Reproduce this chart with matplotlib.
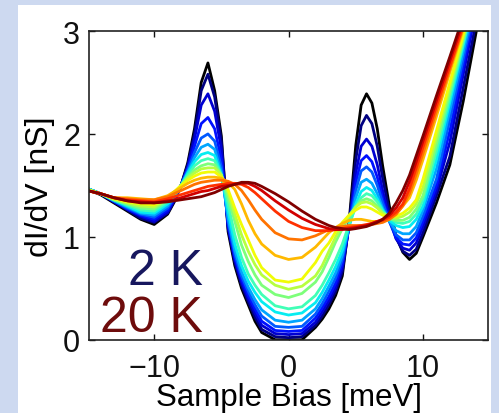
import numpy as np
import matplotlib.pyplot as plt
from matplotlib.patches import Rectangle

plt.rcParams['font.family'] = ['Liberation Sans', 'DejaVu Sans']

# sample bias grid [meV]
bias = [-15, -14, -13, -12, -11, -10, -9,
        -8.5, -8, -7.5, -7, -6.5, -6, -5.5, -5, -4.5, -4, -3.5, -3, -2.5, -2,
        -1, 0, 1, 2, 2.5, 3, 3.5, 4, 4.5, 5,
        5.4, 5.8, 6.2, 6.6, 7, 7.5, 8, 8.5, 9, 9.5, 10,
        11, 12, 13, 14, 15]

temps = [2, 3, 4, 5, 6, 7, 8, 9, 10, 11, 12, 13, 14, 16, 18, 20]

# dI/dV [nS], one list per temperature
g02 = [1.46, 1.41, 1.33, 1.25, 1.17, 1.12, 1.22,
       1.34, 1.50, 1.72, 2.05, 2.50, 2.69, 2.42, 1.98, 1.05, 0.72, 0.50, 0.34, 0.18, 0.07,
       0.00, 0.00, 0.00, 0.12, 0.20, 0.30, 0.43, 0.62, 1.14, 1.89,
       2.28, 2.39, 2.30, 2.05, 1.69, 1.30, 1.01, 0.85, 0.78, 0.84, 1.00,
       1.33, 1.70, 2.32, 3.02, 3.72]
g03 = [1.47, 1.42, 1.34, 1.26, 1.18, 1.14, 1.23,
       1.35, 1.50, 1.70, 2.00, 2.42, 2.58, 2.36, 1.93, 1.08, 0.75, 0.53, 0.37, 0.22, 0.10,
       0.03, 0.02, 0.03, 0.14, 0.23, 0.34, 0.47, 0.66, 1.12, 1.75,
       2.08, 2.18, 2.10, 1.88, 1.57, 1.24, 0.99, 0.86, 0.82, 0.88, 1.04,
       1.40, 1.78, 2.45, 3.12, 3.80]
g04 = [1.47, 1.42, 1.34, 1.27, 1.20, 1.15, 1.24,
       1.36, 1.50, 1.68, 1.95, 2.28, 2.39, 2.22, 1.85, 1.10, 0.78, 0.56, 0.40, 0.26, 0.14,
       0.06, 0.05, 0.06, 0.17, 0.27, 0.38, 0.51, 0.70, 1.10, 1.62,
       1.88, 1.95, 1.88, 1.70, 1.45, 1.18, 0.98, 0.89, 0.87, 0.94, 1.10,
       1.45, 1.92, 2.58, 3.24, 3.90]
g05 = [1.47, 1.42, 1.35, 1.27, 1.21, 1.17, 1.26,
       1.37, 1.50, 1.66, 1.88, 2.10, 2.16, 2.05, 1.75, 1.12, 0.80, 0.59, 0.43, 0.30, 0.18,
       0.09, 0.08, 0.09, 0.21, 0.31, 0.42, 0.55, 0.74, 1.10, 1.53,
       1.74, 1.79, 1.73, 1.58, 1.37, 1.15, 0.99, 0.93, 0.92, 0.99, 1.15,
       1.50, 2.03, 2.66, 3.28, 3.90]
g06 = [1.47, 1.42, 1.35, 1.28, 1.22, 1.19, 1.28,
       1.38, 1.50, 1.65, 1.82, 1.96, 2.00, 1.93, 1.68, 1.15, 0.83, 0.62, 0.47, 0.34, 0.23,
       0.13, 0.12, 0.13, 0.25, 0.35, 0.47, 0.60, 0.78, 1.10, 1.45,
       1.64, 1.68, 1.63, 1.50, 1.33, 1.15, 1.02, 0.97, 0.97, 1.04, 1.20,
       1.56, 2.14, 2.73, 3.33, 3.90]
g07 = [1.47, 1.42, 1.35, 1.29, 1.23, 1.21, 1.30,
       1.39, 1.50, 1.63, 1.77, 1.87, 1.90, 1.85, 1.63, 1.18, 0.87, 0.66, 0.51, 0.39, 0.29,
       0.19, 0.17, 0.19, 0.30, 0.40, 0.52, 0.65, 0.82, 1.10, 1.38,
       1.53, 1.56, 1.52, 1.42, 1.28, 1.15, 1.06, 1.03, 1.03, 1.10, 1.26,
       1.66, 2.23, 2.80, 3.37, 3.90]
g08 = [1.47, 1.42, 1.36, 1.30, 1.24, 1.23, 1.32,
       1.40, 1.50, 1.62, 1.73, 1.80, 1.82, 1.79, 1.60, 1.25, 0.93, 0.72, 0.57, 0.46, 0.37,
       0.27, 0.24, 0.26, 0.36, 0.46, 0.58, 0.71, 0.87, 1.10, 1.32,
       1.44, 1.48, 1.45, 1.37, 1.26, 1.16, 1.11, 1.09, 1.10, 1.17, 1.30,
       1.75, 2.31, 2.86, 3.42, 3.95]
g09 = [1.47, 1.42, 1.36, 1.31, 1.26, 1.25, 1.34,
       1.41, 1.50, 1.60, 1.69, 1.74, 1.76, 1.74, 1.60, 1.32, 1.02, 0.80, 0.64, 0.53, 0.44,
       0.33, 0.30, 0.32, 0.43, 0.53, 0.65, 0.78, 0.93, 1.12, 1.29,
       1.38, 1.42, 1.40, 1.34, 1.25, 1.18, 1.14, 1.13, 1.15, 1.22, 1.36,
       1.83, 2.36, 2.89, 3.42, 3.95]
g10 = [1.46, 1.42, 1.36, 1.32, 1.28, 1.27, 1.36,
       1.42, 1.50, 1.58, 1.65, 1.69, 1.71, 1.70, 1.60, 1.38, 1.15, 0.92, 0.76, 0.63, 0.53,
       0.44, 0.41, 0.45, 0.56, 0.66, 0.80, 0.95, 1.08, 1.19, 1.29,
       1.35, 1.37, 1.35, 1.30, 1.23, 1.18, 1.16, 1.16, 1.19, 1.27, 1.40,
       1.90, 2.41, 2.92, 3.43, 3.95]
g11 = [1.46, 1.42, 1.37, 1.33, 1.30, 1.29, 1.37,
       1.43, 1.50, 1.57, 1.62, 1.66, 1.67, 1.67, 1.60, 1.43, 1.22, 1.02, 0.86, 0.73, 0.63,
       0.53, 0.49, 0.52, 0.62, 0.72, 0.86, 1.00, 1.12, 1.21, 1.29,
       1.33, 1.34, 1.32, 1.28, 1.23, 1.19, 1.18, 1.20, 1.24, 1.32, 1.48,
       1.97, 2.46, 2.95, 3.44, 3.93]
g12 = [1.46, 1.42, 1.37, 1.34, 1.32, 1.31, 1.38,
       1.44, 1.50, 1.55, 1.59, 1.62, 1.63, 1.63, 1.58, 1.46, 1.28, 1.12, 0.97, 0.82, 0.70,
       0.58, 0.56, 0.59, 0.75, 0.86, 0.94, 1.05, 1.14, 1.21, 1.26,
       1.29, 1.29, 1.27, 1.24, 1.21, 1.19, 1.20, 1.23, 1.28, 1.36, 1.56,
       2.03, 2.50, 2.97, 3.44, 3.91]
g13 = [1.45, 1.42, 1.38, 1.38, 1.37, 1.36, 1.40,
       1.44, 1.48, 1.52, 1.55, 1.57, 1.58, 1.58, 1.57, 1.53, 1.46, 1.32, 1.16, 1.03, 0.93,
       0.82, 0.78, 0.80, 0.90, 0.97, 1.04, 1.09, 1.13, 1.16, 1.17,
       1.17, 1.16, 1.15, 1.15, 1.15, 1.17, 1.22, 1.30, 1.38, 1.55, 1.75,
       2.17, 2.60, 3.02, 3.45, 3.87]
g14 = [1.45, 1.42, 1.38, 1.37, 1.36, 1.36, 1.39,
       1.42, 1.45, 1.48, 1.51, 1.53, 1.54, 1.55, 1.55, 1.54, 1.51, 1.45, 1.36, 1.26, 1.17,
       1.04, 0.98, 0.97, 1.01, 1.04, 1.07, 1.09, 1.10, 1.11, 1.11,
       1.11, 1.11, 1.12, 1.13, 1.14, 1.17, 1.22, 1.30, 1.42, 1.61, 1.81,
       2.22, 2.63, 3.04, 3.45, 3.86]
g16 = [1.45, 1.42, 1.38, 1.36, 1.35, 1.34, 1.37,
       1.39, 1.41, 1.43, 1.45, 1.47, 1.49, 1.50, 1.51, 1.52, 1.52, 1.51, 1.48, 1.43, 1.37,
       1.25, 1.15, 1.09, 1.06, 1.06, 1.06, 1.07, 1.08, 1.09, 1.10,
       1.11, 1.12, 1.13, 1.15, 1.16, 1.19, 1.24, 1.32, 1.47, 1.67, 1.87,
       2.27, 2.66, 3.06, 3.46, 3.85]
g18 = [1.45, 1.42, 1.38, 1.35, 1.34, 1.33, 1.35,
       1.36, 1.38, 1.40, 1.42, 1.44, 1.45, 1.47, 1.49, 1.50, 1.51, 1.52, 1.52, 1.49, 1.45,
       1.35, 1.26, 1.18, 1.12, 1.10, 1.08, 1.07, 1.07, 1.08, 1.09,
       1.10, 1.11, 1.13, 1.15, 1.17, 1.21, 1.28, 1.38, 1.54, 1.73, 1.93,
       2.32, 2.71, 3.10, 3.49, 3.88]
g20 = [1.45, 1.42, 1.38, 1.35, 1.33, 1.33, 1.34,
       1.35, 1.36, 1.37, 1.38, 1.39, 1.41, 1.43, 1.46, 1.49, 1.51, 1.53, 1.53, 1.52, 1.49,
       1.42, 1.34, 1.25, 1.17, 1.14, 1.11, 1.09, 1.08, 1.07, 1.08,
       1.09, 1.10, 1.12, 1.14, 1.17, 1.23, 1.33, 1.45, 1.60, 1.79, 1.98,
       2.37, 2.75, 3.14, 3.52, 3.91]

curves = [g02, g03, g04, g05, g06, g07, g08, g09, g10, g11, g12, g13, g14, g16, g18, g20]

# black for 2 K, then jet from blue to dark red
colors = ['black'] + list(plt.cm.jet(np.linspace(0, 1, len(curves) - 1)))

fig = plt.figure(figsize=(4.99, 4.14), dpi=100, facecolor='#cdd9f0')
fig.patches.append(Rectangle((18 / 499, 0), (491 - 18) / 499, (414 - 6) / 414,
                             transform=fig.transFigure, facecolor='white',
                             edgecolor='none', zorder=-5))
ax = fig.add_axes([0.1778, 0.177, 0.801, 0.7456])
ax.set_facecolor('white')

for T, g, c in zip(temps, curves, colors):
    ax.plot(bias, g, color=c, lw=2.0, solid_joinstyle='round')

ax.set_xlim(-14.87, 14.87)
ax.set_ylim(0, 3)
ax.set_xticks([-10, 0, 10])
ax.set_yticks([0, 1, 2, 3])
ax.tick_params(direction='in', top=True, right=True, length=4, width=1,
               labelsize=22, colors='#111111')
ax.tick_params(axis='x', pad=9.5)
ax.tick_params(axis='y', pad=6.3)
for s in ax.spines.values():
    s.set_linewidth(1.2)
    s.set_color('#222222')

ax.set_xlabel('Sample Bias [meV]', fontsize=22.5)
ax.set_ylabel('dI/dV [nS]', fontsize=23)
ax.xaxis.set_label_coords(0.5, -0.138)
ax.yaxis.set_label_coords(-0.084, 0.5)

ax.text(-6.4, 0.54, '2 K', ha='right', va='baseline', fontsize=36, color='#17175e')
ax.text(-6.4, 0.085, '20 K', ha='right', va='baseline', fontsize=36, color='#6e0c0c')

fig.savefig('out.png', dpi=100, facecolor=fig.get_facecolor())
